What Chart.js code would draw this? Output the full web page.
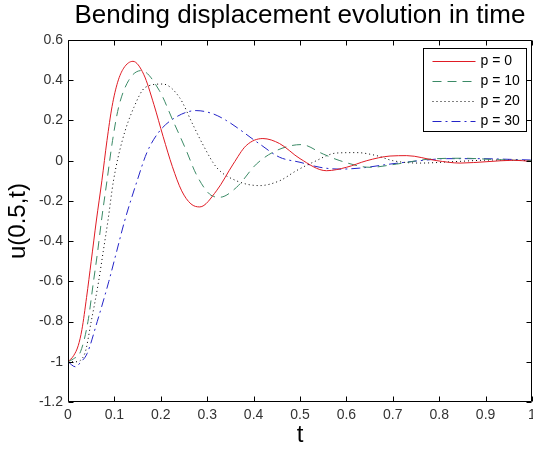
<!DOCTYPE html>
<html>
<head>
<meta charset="utf-8">
<script src="https://cdn.jsdelivr.net/npm/chart.js@4/dist/chart.umd.min.js"></script>
<style>
html, body { margin:0; padding:0; background:#fff; }
#wrap { position:relative; width:533px; height:449px; }
</style>
</head>
<body>
<div id="wrap"><canvas id="c"></canvas></div>
<script>
// p = 0
const tP0 = [0, 0.012, 0.022, 0.03, 0.04, 0.05, 0.061, 0.073, 0.084, 0.095, 0.107, 0.12, 0.14, 0.163, 0.185, 0.205, 0.225, 0.245, 0.265, 0.284, 0.32, 0.356, 0.384, 0.42, 0.456, 0.5, 0.557, 0.6, 0.644, 0.694, 0.73, 0.795, 0.845, 0.903, 0.96, 1]
const uP0 = [-1, -0.97, -0.92, -0.84, -0.68, -0.5, -0.3, -0.1, 0.1, 0.27, 0.39, 0.46, 0.494, 0.43, 0.28, 0.12, -0.03, -0.15, -0.215, -0.23, -0.15, -0.017, 0.075, 0.11, 0.085, 0.01, -0.05, -0.033, 0, 0.023, 0.025, 0, -0.012, -0.005, 0.002, -0.004]
// p = 10
const tP10 = [0, 0.012, 0.027, 0.043, 0.055, 0.064, 0.072, 0.084, 0.096, 0.109, 0.131, 0.158, 0.197, 0.226, 0.255, 0.276, 0.305, 0.327, 0.363, 0.406, 0.449, 0.503, 0.55, 0.586, 0.651, 0.708, 0.78, 0.852, 0.924, 1]
const uP10 = [-1, -0.985, -0.95, -0.8, -0.6, -0.45, -0.3, -0.1, 0.1, 0.265, 0.4, 0.448, 0.348, 0.2, 0.05, -0.066, -0.166, -0.182, -0.133, -0.017, 0.05, 0.08, 0.033, 0, -0.033, -0.017, 0.008, 0.012, 0.005, 0]
// p = 20
const tP20 = [0, 0.015, 0.036, 0.05, 0.066, 0.076, 0.086, 0.098, 0.117, 0.142, 0.167, 0.204, 0.24, 0.269, 0.29, 0.32, 0.363, 0.413, 0.456, 0.492, 0.528, 0.579, 0.622, 0.665, 0.7, 0.759, 0.83, 0.915, 1]
const uP20 = [-1, -1, -0.96, -0.8, -0.6, -0.45, -0.3, -0.1, 0.1, 0.265, 0.365, 0.381, 0.315, 0.18, 0.083, -0.033, -0.1, -0.124, -0.1, -0.05, -0.008, 0.038, 0.04, 0.025, 0, -0.012, -0.005, 0.003, 0]
// p = 30
const tP30 = [0, 0.016, 0.028, 0.041, 0.063, 0.088, 0.105, 0.122, 0.149, 0.17, 0.195, 0.228, 0.276, 0.31, 0.341, 0.413, 0.456, 0.5, 0.543, 0.586, 0.629, 0.694, 0.759, 0.816, 0.888, 0.96, 1]
const uP30 = [-1, -1.025, -1, -0.96, -0.8, -0.6, -0.45, -0.3, -0.1, 0.04, 0.14, 0.21, 0.249, 0.235, 0.2, 0.083, 0.017, -0.008, -0.033, -0.042, -0.037, -0.017, 0, 0.01, 0.01, 0.006, 0.003]

const xTicks = [0, 0.1, 0.2, 0.3, 0.4, 0.5, 0.6, 0.7, 0.8, 0.9, 1]
const yTicks = [-1.2, -1, -0.8, -0.6, -0.4, -0.2, 0, 0.2, 0.4, 0.6]
const names = ['p = 0', 'p = 10', 'p = 20', 'p = 30']

const colors = ['#e01b24', '#3b8a66', '#000000', '#2424c8']
const dashes = [[], [9, 6], [1, 3], [9, 4, 2, 4]]

const FONT = "'Liberation Sans', Arial, sans-serif"
const pts = (t, u) => t.map((v, i) => ({x: v, y: u[i]}))

// box + inward ticks on all four sides, like matlab
const frame = {
	id: 'frame',
	afterDatasetsDraw(c) {
		const {ctx, chartArea: a, scales: {x, y}} = c
		const L = Math.floor(a.left) + 0.5, R = Math.ceil(a.right) - 0.5
		const T = Math.floor(a.top) + 0.5, B = Math.ceil(a.bottom) - 0.5
		const tl = 5
		ctx.save()
		ctx.strokeStyle = '#000'
		ctx.lineWidth = 1
		ctx.beginPath()
		ctx.rect(L, T, R - L, B - T)
		xTicks.forEach(v => {
			const p = Math.round(x.getPixelForValue(v)) + 0.5
			ctx.moveTo(p, B); ctx.lineTo(p, B - tl)
			ctx.moveTo(p, T); ctx.lineTo(p, T + tl)
		})
		yTicks.forEach(v => {
			const p = Math.round(y.getPixelForValue(v)) + 0.5
			ctx.moveTo(L, p); ctx.lineTo(L + tl, p)
			ctx.moveTo(R, p); ctx.lineTo(R - tl, p)
		})
		ctx.stroke()
		ctx.restore()
	}
}

// boxed legend in the upper right corner of the axes
const boxLegend = {
	id: 'boxLegend',
	afterDraw(c) {
		const {ctx, chartArea: a} = c
		const w = 103, h = 83
		const bx = Math.round(a.right - 6 - w) + 0.5, by = Math.round(a.top + 8) + 0.5
		ctx.save()
		ctx.fillStyle = '#fff'
		ctx.fillRect(bx, by, w, h)
		ctx.strokeStyle = '#000'
		ctx.lineWidth = 1
		ctx.strokeRect(bx, by, w, h)
		ctx.font = '14px ' + FONT
		ctx.textBaseline = 'middle'
		names.forEach((n, i) => {
			const ly = Math.round(by + 12 + i * 20) + 0.5
			ctx.beginPath()
			ctx.strokeStyle = colors[i]
			ctx.lineWidth = 1
			ctx.setLineDash(dashes[i])
			ctx.moveTo(bx + 9, ly)
			ctx.lineTo(bx + 52, ly)
			ctx.stroke()
			ctx.setLineDash([])
			ctx.fillStyle = '#000'
			ctx.fillText(n, bx + 57, ly)
		})
		ctx.restore()
	}
}

const line = (i, t, u) => ({
	label: names[i],
	data: pts(t, u),
	borderColor: colors[i],
	borderDash: dashes[i],
	borderWidth: 1,
	pointRadius: 0,
	fill: false,
	cubicInterpolationMode: 'monotone',
})

new Chart(document.getElementById('c'), {
	type: 'line',
	data: {
		datasets: [
			line(0, tP0, uP0),
			line(1, tP10, uP10),
			line(2, tP20, uP20),
			line(3, tP30, uP30),
		]
	},
	options: {
		responsive: true,
		maintainAspectRatio: false,
		animation: false,
		layout: { padding: {left: 0, right: 1, top: 0, bottom: 0} },
		plugins: {
			legend: { display: false },
			tooltip: { enabled: false },
			title: {
				display: true,
				text: 'Bending displacement evolution in time',
				color: '#000',
				fullSize: false,
				font: { family: FONT, size: 26, weight: 'normal', lineHeight: 1.2 },
				padding: { top: 0.4, bottom: 8.4 },
			},
		},
		scales: {
			x: {
				type: 'linear',
				min: 0,
				max: 1,
				afterBuildTicks: s => { s.ticks = xTicks.map(v => ({value: v})) },
				afterFit: s => { s.height = 47; s.paddingLeft = 0; s.paddingRight = 0 },
				grid: { display: false, drawTicks: false },
				border: { display: false },
				ticks: {
					color: '#333',
					font: { family: FONT, size: 14 },
					padding: 5,
					maxRotation: 0,
					autoSkip: false,
					callback: v => String(v),
				},
				title: {
					display: true,
					text: 't',
					color: '#000',
					font: { family: FONT, size: 24, lineHeight: 1 },
					padding: { top: 0, bottom: 1.3 },
				},
			},
			y: {
				min: -1.2,
				max: 0.6,
				afterBuildTicks: s => { s.ticks = yTicks.map(v => ({value: v})) },
				afterFit: s => { s.width = 68; s.paddingTop = 0; s.paddingBottom = 0 },
				grid: { display: false, drawTicks: false },
				border: { display: false },
				ticks: {
					color: '#333',
					font: { family: FONT, size: 14 },
					padding: 5,
					autoSkip: false,
					callback: v => String(v),
				},
				title: {
					display: true,
					text: 'u(0.5,t)',
					color: '#000',
					font: { family: FONT, size: 24, lineHeight: 1 },
					padding: { top: 6.7, bottom: 0 },
				},
			},
		},
	},
	plugins: [frame, boxLegend],
})
</script>
</body>
</html>
